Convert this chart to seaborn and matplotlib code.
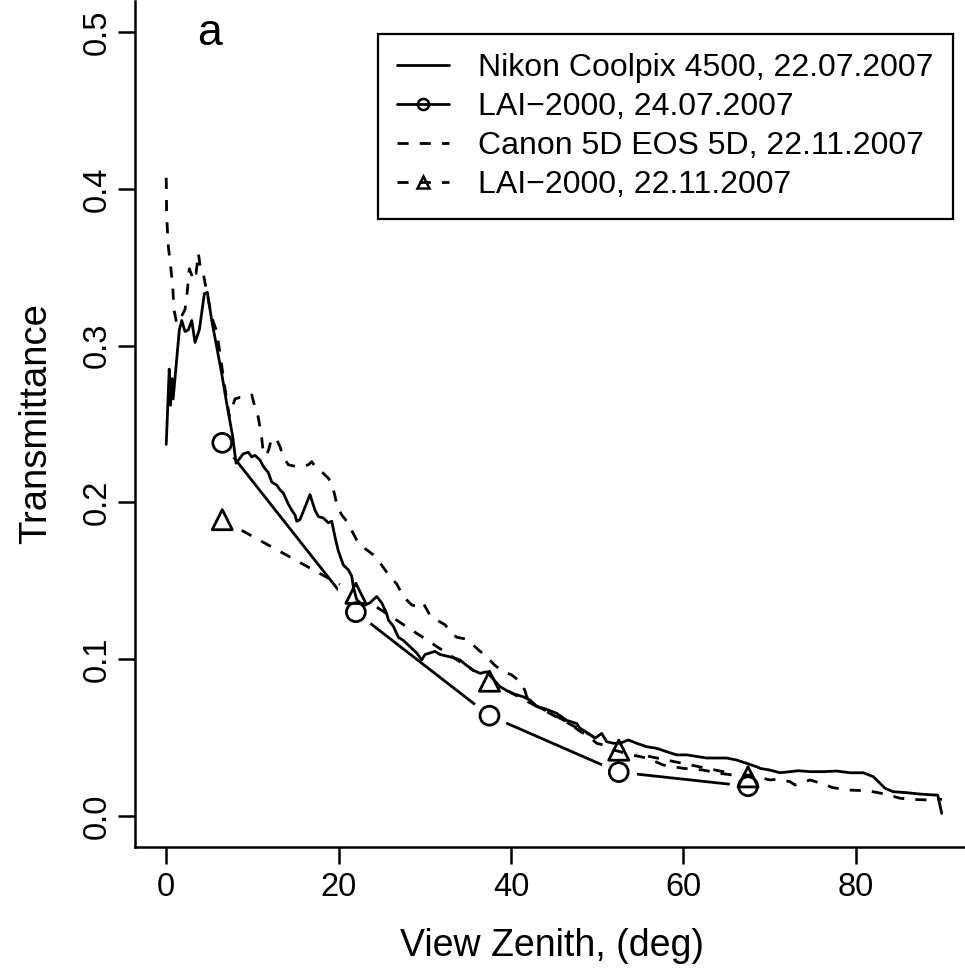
import matplotlib
matplotlib.use("Agg")
import matplotlib.pyplot as plt
from matplotlib.lines import Line2D
import numpy as np
import pandas as pd
import seaborn as sns

# ---------------- data ----------------
nikon_zenith = [0.0, 0.35, 0.5, 0.65, 0.8, 1.52, 1.80, 2.18, 2.56, 2.96, 3.34, 3.84, 4.42, 4.77,
                5.28, 5.86, 6.44, 7.02, 7.71, 8.10, 8.94, 9.52, 9.92, 10.30, 10.88, 11.26, 11.84,
                12.24, 12.82, 13.20, 13.58, 14.16, 14.56, 14.94, 15.14, 15.52, 16.10, 16.68, 17.26,
                17.65, 18.23, 18.81, 19.20, 19.58, 19.97, 20.55, 21.13, 21.52, 21.71, 22.10, 22.87,
                23.64, 24.42, 25.0, 25.58, 25.77, 26.35, 26.93, 27.51, 28.28, 29.06, 29.64, 30.02,
                30.60, 31.18, 31.76, 32.54, 33.31, 34.08, 34.86, 35.63, 36.40, 37.18, 38.72, 39.50,
                40.27, 41.43, 42.20, 42.98, 44.14, 45.30, 46.46, 47.62, 48.0, 49.16, 49.74, 50.52,
                51.10, 51.87, 52.65, 53.61, 54.58, 55.74, 56.90, 58.06, 59.22, 60.38, 61.54, 62.70,
                63.86, 65.02, 66.18, 67.34, 68.50, 68.89, 70.05, 71.21, 72.37, 73.33, 74.69, 76.23,
                77.78, 79.33, 80.87, 82.03, 82.81, 83.39, 84.35, 85.90, 87.45, 89.19, 89.5, 89.97]
nikon_trans = [0.237, 0.285, 0.262, 0.279, 0.266, 0.310, 0.316, 0.309, 0.310, 0.316, 0.302, 0.310,
               0.333, 0.334, 0.316, 0.299, 0.282, 0.263, 0.242, 0.225, 0.231, 0.232, 0.229, 0.230,
               0.227, 0.223, 0.219, 0.213, 0.211, 0.208, 0.206, 0.199, 0.195, 0.192, 0.188, 0.189,
               0.197, 0.205, 0.195, 0.191, 0.190, 0.187, 0.188, 0.178, 0.169, 0.160, 0.157, 0.153,
               0.146, 0.138, 0.134, 0.136, 0.140, 0.136, 0.129, 0.125, 0.121, 0.114, 0.112, 0.108,
               0.104, 0.0995, 0.103, 0.104, 0.105, 0.103, 0.102, 0.101, 0.0995, 0.096, 0.093, 0.091,
               0.092, 0.0825, 0.080, 0.078, 0.076, 0.074, 0.070, 0.068, 0.0655, 0.061, 0.059, 0.056,
               0.052, 0.0496, 0.0527, 0.0474, 0.0464, 0.0464, 0.0485, 0.0464, 0.0442, 0.0432, 0.041,
               0.039, 0.039, 0.038, 0.037, 0.037, 0.037, 0.0357, 0.0336, 0.0314, 0.0304, 0.0293,
               0.0276, 0.0283, 0.0289, 0.0283, 0.0283, 0.0287, 0.0276, 0.0276, 0.0251, 0.0209,
               0.0177, 0.0155, 0.0149, 0.0140, 0.0134, 0.0134, 0.0017]

canon_zenith = [0.0, 0.05, 0.25, 0.52, 0.75, 0.9, 1.22, 1.7, 2.18, 2.45, 2.68, 2.96, 3.15, 3.46,
                3.73, 4.0, 4.3, 4.5, 5.28, 5.86, 6.24, 6.62, 7.09, 7.32, 7.98, 8.56, 9.3, 9.92,
                10.19, 10.69, 11.08, 11.27, 11.58, 11.85, 12.24, 12.82, 13.2, 13.58, 14.16, 14.94,
                15.72, 16.5, 16.88, 17.26, 17.65, 18.04, 18.42, 18.81, 19.2, 19.58, 19.85, 20.36,
                20.94, 21.52, 22.1, 22.68, 23.45, 24.03, 24.6, 25.38, 25.96, 26.74, 27.5, 28.48,
                29.25, 29.83, 30.6, 31.38, 32.34, 33.12, 33.7, 34.66, 35.44, 36.21, 37.18, 38.14,
                39.11, 40.08, 41.04, 41.62, 41.82, 43.0, 44.5, 45.7, 46.5, 48.0, 48.8, 49.94, 50.7,
                52.0, 54.0, 55.9, 57.67, 60.0, 62.3, 64.25, 65.8, 67.7, 70.05, 70.8, 72.37, 72.95,
                74.69, 76.6, 77.2, 78.95, 81.45, 83.6, 85.15, 86.7, 88.6, 89.2, 90.0]
canon_trans = [0.407, 0.382, 0.363, 0.350, 0.338, 0.323, 0.314, 0.318, 0.323, 0.335, 0.349, 0.345,
               0.349, 0.346, 0.359, 0.348, 0.346, 0.340, 0.318, 0.309, 0.295, 0.280, 0.263, 0.255,
               0.266, 0.267, 0.267, 0.2685, 0.263, 0.254, 0.241, 0.231, 0.230, 0.233, 0.241, 0.240,
               0.2355, 0.229, 0.224, 0.223, 0.223, 0.224, 0.226, 0.223, 0.221, 0.2196, 0.2175,
               0.2154, 0.212, 0.204, 0.197, 0.192, 0.188, 0.182, 0.176, 0.172, 0.169, 0.1665,
               0.163, 0.157, 0.1526, 0.148, 0.140, 0.1346, 0.1335, 0.1357, 0.128, 0.125, 0.122,
               0.1165, 0.114, 0.113, 0.110, 0.106, 0.1016, 0.096, 0.092, 0.090, 0.0857, 0.080,
               0.076, 0.070, 0.066, 0.0623, 0.060, 0.054, 0.0517, 0.0464, 0.0453, 0.042, 0.039,
               0.0368, 0.0325, 0.0304, 0.0293, 0.0272, 0.0261, 0.0261, 0.023, 0.0234, 0.0219,
               0.0198, 0.023, 0.0198, 0.0183, 0.0166, 0.0161, 0.0138, 0.0113, 0.0106, 0.0102,
               0.0113, 0.0105]

lai_zenith = [6.5, 22.0, 37.5, 52.5, 67.5]
lai_jul_trans = [0.238, 0.130, 0.064, 0.028, 0.019]
lai_nov_trans = [0.189, 0.142, 0.086, 0.042, 0.025]

legend_labels = ["Nikon Coolpix 4500, 22.07.2007",
                 "LAI\u22122000, 24.07.2007",
                 "Canon 5D EOS 5D, 22.11.2007",
                 "LAI\u22122000, 22.11.2007"]
x_ticks = [0, 20, 40, 60, 80]
y_ticks = [0.0, 0.1, 0.2, 0.3, 0.4, 0.5]
y_tick_labels = ["0.0", "0.1", "0.2", "0.3", "0.4", "0.5"]
panel_label = "a"
x_label = "View Zenith, (deg)"
y_label = "Transmittance"

# ---------------- styling ----------------
sns.set_theme(style="ticks")
plt.rcParams["font.family"] = ["Liberation Sans", "DejaVu Sans"]
plt.rcParams["axes.edgecolor"] = "black"
plt.rcParams["axes.linewidth"] = 1.8

W, H = 965, 973
fig = plt.figure(figsize=(W / 100, H / 100), dpi=100)
fig.patch.set_facecolor("white")
ax = fig.add_axes([135.2 / W, (H - 847.4) / H, (W - 135.2) / W, 846.8 / H])
ax.set_facecolor("white")

LW = 2.0
DASH = (0, (4, 4))

nikon = pd.DataFrame({"zenith": nikon_zenith, "trans": nikon_trans})
canon = pd.DataFrame({"zenith": canon_zenith, "trans": canon_trans})
lai = pd.DataFrame({"zenith": lai_zenith, "jul": lai_jul_trans, "nov": lai_nov_trans})

# LAI connecting lines (type "b": gaps round the points)
sns.lineplot(data=lai, x="zenith", y="jul", ax=ax, color="black", lw=LW,
             estimator=None, sort=False, zorder=2)
sns.lineplot(data=lai, x="zenith", y="nov", ax=ax, color="black", lw=LW,
             linestyle=DASH, estimator=None, sort=False, zorder=2)
# white halos that open the gaps
sns.scatterplot(data=lai, x="zenith", y="jul", ax=ax, color="white", s=700,
                edgecolor="none", zorder=3)
sns.scatterplot(data=lai, x="zenith", y="nov", ax=ax, color="white", s=700,
                edgecolor="none", zorder=3)
# camera curves
sns.lineplot(data=nikon, x="zenith", y="trans", ax=ax, color="black", lw=LW,
             estimator=None, sort=False, zorder=4)
sns.lineplot(data=canon, x="zenith", y="trans", ax=ax, color="black", lw=LW,
             linestyle=DASH, estimator=None, sort=False, zorder=4)
# LAI markers
sns.scatterplot(data=lai, x="zenith", y="jul", ax=ax, marker="o", s=185,
                facecolor="none", edgecolor="black", linewidth=2.0, zorder=5)
sns.scatterplot(data=lai, x="zenith", y="nov", ax=ax, marker="^", s=210,
                facecolor="none", edgecolor="black", linewidth=2.0, zorder=5)

ax.set_xlim(-3.6, (W - 166.2) / 8.62)
ax.set_ylim(-0.02, 0.52)

for s in ["top", "right"]:
    ax.spines[s].set_visible(False)
ax.spines["left"].set_linewidth(1.8)
ax.spines["bottom"].set_linewidth(1.8)

FS = 23.5
ax.set_xticks(x_ticks)
ax.set_xticklabels([str(t) for t in x_ticks], fontsize=FS)
ax.set_yticks(y_ticks)
ax.set_yticklabels(y_tick_labels, fontsize=FS, rotation=90, va="center")
ax.tick_params(axis="both", direction="out", length=12, width=1.8, color="black",
               labelcolor="black", pad=4)
ax.tick_params(axis="x", pad=6)

ax.set_xlabel(x_label, fontsize=27, color="black")
ax.set_ylabel(y_label, fontsize=27.5, color="black")
ax.xaxis.set_label_coords((552 - 135.2) / (W - 135.2), (847.4 - 946) / 846.8)
ax.xaxis.label.set_va("center")
ax.yaxis.set_label_coords((36 - 135.2) / (W - 135.2), (847.4 - 424) / 846.8)
ax.yaxis.label.set_va("center")
ax.yaxis.label.set_ha("center")

ax.text(5, 0.499, panel_label, fontsize=32, ha="center", va="center", color="black")

handles = [
    Line2D([], [], color="black", lw=LW),
    Line2D([], [], color="black", lw=LW, marker="o", markersize=8,
           markerfacecolor="none", markeredgewidth=1.8),
    Line2D([], [], color="black", lw=LW, linestyle=DASH),
    Line2D([], [], color="black", lw=LW, linestyle=DASH, marker="^", markersize=9,
           markerfacecolor="none", markeredgewidth=1.8),
]
leg = ax.legend(handles, legend_labels, loc="upper left",
                bbox_to_anchor=(378 / W, 1 - 34 / H), bbox_transform=fig.transFigure,
                borderaxespad=0, fontsize=23, frameon=True, fancybox=False,
                edgecolor="black", framealpha=1, handlelength=1.63,
                handletextpad=0.9, borderpad=0.6, labelspacing=0.28)
leg.get_frame().set_linewidth(1.6)
for t in leg.get_texts():
    t.set_color("black")

fig.savefig("out.png", dpi=100, facecolor="white")
